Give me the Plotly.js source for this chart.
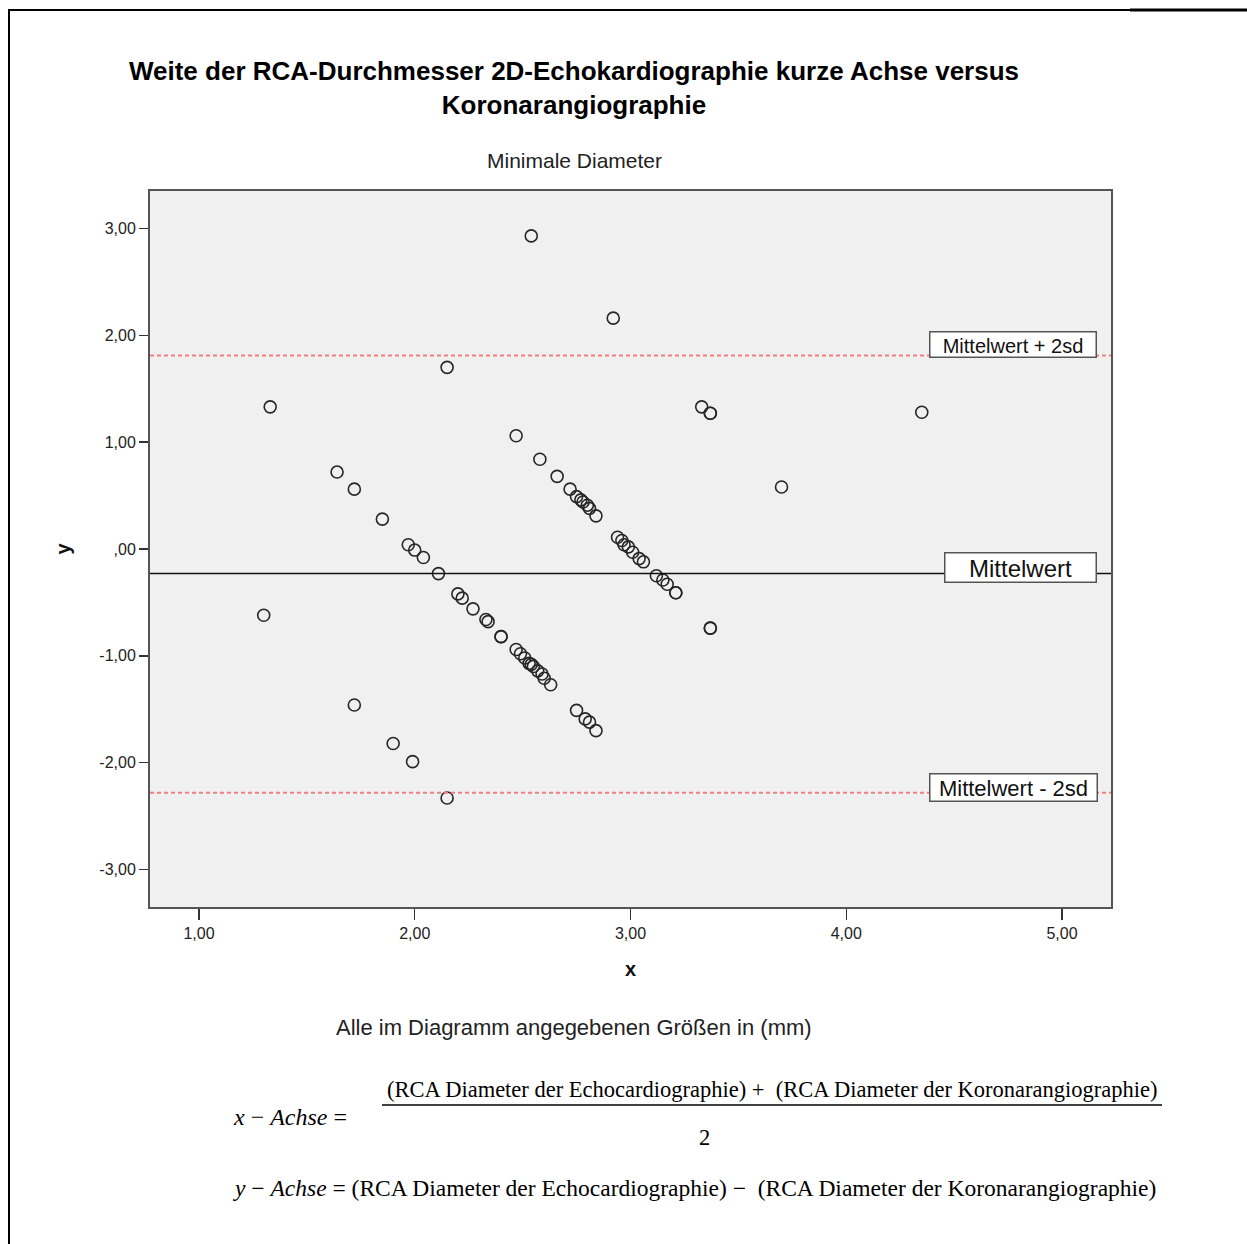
<!DOCTYPE html>
<html>
<head>
<meta charset="utf-8">
<script src="https://cdn.plot.ly/plotly-3.0.1.min.js"></script>
<style>html,body{margin:0;padding:0;background:#fff;}#chart{width:1247px;height:1244px;}</style>
</head>
<body>
<div id="chart"></div>
<script>
// ---- data ----
var xValues = [
  1.64, 1.72, 1.85, 1.97, 2.00, 2.04, 2.11, 2.20, 2.22, 2.27, 2.33, 2.34, 2.40, 2.40,
  2.47, 2.49, 2.51, 2.53, 2.54, 2.55, 2.57, 2.59, 2.60, 2.63, 2.75, 2.79, 2.81, 2.84,
  1.30, 1.72, 1.90, 1.99, 2.15,
  2.54, 2.92, 2.15, 1.33, 3.33, 3.37, 3.37, 4.35, 2.47, 2.58, 2.66, 2.72,
  2.75, 2.77, 2.78, 2.80, 2.81, 2.84, 2.94, 2.96, 2.97, 2.99, 3.01, 3.04, 3.06,
  3.12, 3.15, 3.17, 3.21, 3.21, 3.37, 3.37, 3.70
];
var yValues = [
  0.72, 0.56, 0.28, 0.04, -0.01, -0.08, -0.23, -0.42, -0.46, -0.56, -0.66, -0.68, -0.82, -0.82,
  -0.94, -0.98, -1.02, -1.07, -1.08, -1.10, -1.14, -1.17, -1.21, -1.27, -1.51, -1.59, -1.62, -1.70,
  -0.62, -1.46, -1.82, -1.99, -2.33,
  2.93, 2.16, 1.70, 1.33, 1.33, 1.27, 1.27, 1.28, 1.06, 0.84, 0.68, 0.56,
  0.49, 0.46, 0.44, 0.41, 0.38, 0.31, 0.11, 0.08, 0.04, 0.02, -0.03, -0.09, -0.12,
  -0.25, -0.29, -0.33, -0.41, -0.41, -0.74, -0.74, 0.58
];
var meanValue = -0.23;
var upperLimit = 1.81;
var lowerLimit = -2.28;

var xTickValues = [1, 2, 3, 4, 5];
var xTickLabels = ["1,00", "2,00", "3,00", "4,00", "5,00"];
var yTickValues = [-3, -2, -1, 0, 1, 2, 3];
var yTickLabels = ["-3,00", "-2,00", "-1,00", ",00", "1,00", "2,00", "3,00"];

var lineLabels = ["Mittelwert + 2sd", "Mittelwert", "Mittelwert - 2sd"];
var titleText = "Weite der RCA-Durchmesser 2D-Echokardiographie kurze Achse versus<br>Koronarangiographie";
var subtitleText = "Minimale Diameter";
var noteText = "Alle im Diagramm angegebenen Größen in (mm)";
var xAxisTitle = "x";
var yAxisTitle = "y";
var formulaXLeft = "<i>x</i> − <i>Achse</i> =";
var formulaXNum = "(RCA Diameter der Echocardiographie) +  (RCA Diameter der Koronarangiographie)";
var formulaXDen = "2";
var formulaY = "<i>y</i> − <i>Achse</i> = (RCA Diameter der Echocardiographie) −  (RCA Diameter der Koronarangiographie)";

// ---- layout helpers (pixel -> paper) ----
var W = 1247, H = 1244;
var PL = 150, PR = 1111, PT = 191, PB = 907;
function px(x) { return (x - PL) / (PR - PL); }
function py(y) { return (PB - y) / (PB - PT); }

var sans = "Liberation Sans, Arial, sans-serif";
var serif = "Liberation Serif, DejaVu Serif, serif";

var trace = {
  type: "scatter",
  mode: "markers",
  x: xValues,
  y: yValues,
  marker: { symbol: "circle-open", size: 12, color: "#262626", line: { width: 1.6, color: "#262626" } },
  hoverinfo: "x+y",
  showlegend: false
};

var layout = {
  width: W, height: H,
  margin: { l: PL, r: W - PR, t: PT, b: H - PB, pad: 0 },
  paper_bgcolor: "#ffffff",
  plot_bgcolor: "#f0f0f0",
  showlegend: false,
  title: {
    text: titleText,
    font: { family: sans, size: 26, color: "#000", weight: "bold" },
    xref: "paper", x: px(574), xanchor: "center",
    yref: "container", y: 1 - 80 / H, yanchor: "middle"
  },
  xaxis: {
    range: [0.773, 5.227],
    tickmode: "array", tickvals: xTickValues, ticktext: xTickLabels,
    ticks: "outside", ticklen: 11, tickwidth: 1.5, tickcolor: "#333",
    tickfont: { family: sans, size: 16, color: "#222" },
    showgrid: false, zeroline: false,
    showline: true, linecolor: "#555", linewidth: 2, mirror: true,
    title: { text: xAxisTitle, font: { family: sans, size: 20, color: "#111", weight: "bold" }, standoff: 21 }
  },
  yaxis: {
    range: [-3.35, 3.35],
    tickmode: "array", tickvals: yTickValues, ticktext: yTickLabels,
    ticks: "outside", ticklen: 9, tickwidth: 1.5, tickcolor: "#333",
    tickfont: { family: sans, size: 16, color: "#222" },
    showgrid: false, zeroline: false,
    showline: true, linecolor: "#555", linewidth: 2, mirror: true,
    title: { text: yAxisTitle, font: { family: sans, size: 20, color: "#111", weight: "bold" }, standoff: 23 }
  },
  shapes: [
    { type: "line", xref: "paper", yref: "y", x0: 0, x1: 1, y0: upperLimit, y1: upperLimit,
      line: { color: "#f08080", width: 2, dash: "4px,3px" } },
    { type: "line", xref: "paper", yref: "y", x0: 0, x1: 1, y0: lowerLimit, y1: lowerLimit,
      line: { color: "#f08080", width: 2, dash: "4px,3px" } },
    { type: "line", xref: "paper", yref: "y", x0: 0, x1: 1, y0: meanValue, y1: meanValue,
      line: { color: "#111", width: 1.5 } },
    // page frame
    { type: "line", xref: "paper", yref: "paper", x0: px(9), x1: px(9), y0: py(9), y1: py(1250),
      line: { color: "#000", width: 2 } },
    { type: "line", xref: "paper", yref: "paper", x0: px(8), x1: px(1130), y0: py(10), y1: py(10),
      line: { color: "#000", width: 2 } },
    { type: "line", xref: "paper", yref: "paper", x0: px(1130), x1: px(1250), y0: py(10), y1: py(10),
      line: { color: "#000", width: 3 } },
    // fraction bar
    { type: "line", xref: "paper", yref: "paper", x0: px(382), x1: px(1162), y0: py(1105), y1: py(1105),
      line: { color: "#000", width: 1.5 } }
  ],
  annotations: [
    { text: lineLabels[0], xref: "paper", yref: "paper", x: px(1012.5), y: py(344.5),
      xanchor: "center", yanchor: "middle", showarrow: false,
      width: 165, height: 24, valign: "bottom", bgcolor: "#ffffff", bordercolor: "#555", borderwidth: 1.5, borderpad: 0,
      font: { family: sans, size: 20, color: "#111" } },
    { text: lineLabels[1], xref: "paper", yref: "paper", x: px(1020.5), y: py(567.5),
      xanchor: "center", yanchor: "middle", showarrow: false,
      width: 150, height: 28, valign: "bottom", bgcolor: "#ffffff", bordercolor: "#555", borderwidth: 1.5, borderpad: 0,
      font: { family: sans, size: 24, color: "#111" } },
    { text: lineLabels[2], xref: "paper", yref: "paper", x: px(1013.5), y: py(787.5),
      xanchor: "center", yanchor: "middle", showarrow: false,
      width: 166, height: 26, valign: "bottom", bgcolor: "#ffffff", bordercolor: "#555", borderwidth: 1.5, borderpad: 0,
      font: { family: sans, size: 22, color: "#111" } },
    { text: subtitleText, xref: "paper", yref: "paper", x: px(574), y: py(160),
      xanchor: "center", yanchor: "middle", showarrow: false,
      font: { family: sans, size: 21, color: "#222" } },
    { text: noteText, xref: "paper", yref: "paper", x: px(574), y: py(1027),
      xanchor: "center", yanchor: "middle", showarrow: false,
      font: { family: sans, size: 22, color: "#222" } },
    { text: formulaXLeft, xref: "paper", yref: "paper", x: px(231), y: py(1117),
      xanchor: "left", yanchor: "middle", showarrow: false,
      font: { family: serif, size: 24, color: "#000" } },
    { text: formulaXNum, xref: "paper", yref: "paper", x: px(772), y: py(1089),
      xanchor: "center", yanchor: "middle", showarrow: false,
      font: { family: serif, size: 22.5, color: "#000" } },
    { text: formulaXDen, xref: "paper", yref: "paper", x: px(704), y: py(1137),
      xanchor: "center", yanchor: "middle", showarrow: false,
      font: { family: serif, size: 22.5, color: "#000" } },
    { text: formulaY, xref: "paper", yref: "paper", x: px(231), y: py(1188),
      xanchor: "left", yanchor: "middle", showarrow: false,
      font: { family: serif, size: 23.5, color: "#000" } }
  ]
};

Plotly.newPlot("chart", [trace], layout, { displayModeBar: false, staticPlot: true });
</script>
</body>
</html>
